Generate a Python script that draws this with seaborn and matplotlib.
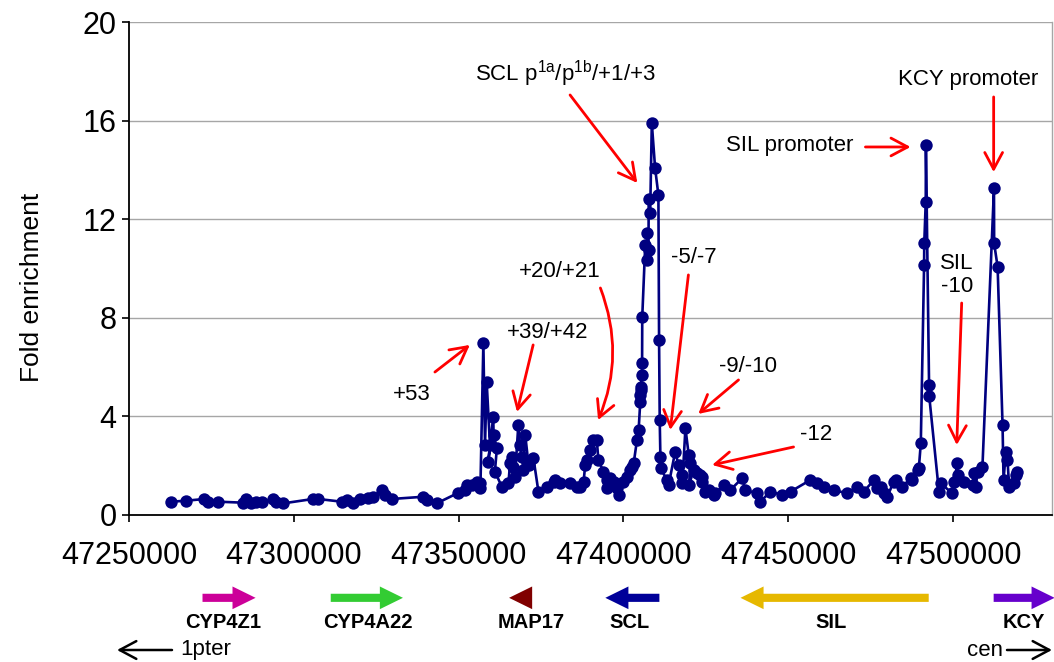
import numpy as np
import pandas as pd
import matplotlib
matplotlib.use("Agg")
import matplotlib.pyplot as plt
import matplotlib.transforms as mtransforms
from matplotlib.patches import FancyArrow
import seaborn as sns

# ---------------- data ----------------
position = [
    47262800, 47267400, 47272900, 47273900, 47277000, 47284600, 47285600, 47287100,
    47288600, 47290200, 47293700, 47294700, 47296700, 47305800, 47307400, 47314500,
    47316000, 47318000, 47320000, 47322500, 47324100, 47326600, 47327600, 47329700,
    47339300, 47340300, 47343300, 47349900, 47351900, 47352400, 47354000, 47355500,
    47356500, 47356600, 47357500, 47358000, 47358500, 47359500, 47359000, 47360500,
    47360600, 47361600, 47361000, 47363100, 47365100, 47365600, 47366100, 47366600,
    47367100, 47368100, 47368600, 47369200, 47369600, 47370200, 47371200, 47372700,
    47374200, 47376700, 47378800, 47379300, 47380800, 47383800, 47385900, 47386900,
    47387900, 47388400, 47388900, 47389900, 47390900, 47391900, 47392400, 47393900,
    47395000, 47395100, 47396000, 47397000, 47398000, 47398500, 47400000, 47401000,
    47402100, 47402600, 47403100, 47404100, 47404600, 47405100, 47405150, 47405200,
    47405250, 47405600, 47405650, 47405700, 47406600, 47407100, 47407150, 47407600,
    47407650, 47408100, 47408600, 47409600, 47410600, 47410800, 47411000, 47411200,
    47411300, 47413200, 47413700, 47415700, 47416700, 47417800, 47417850, 47418800,
    47419800, 47420300, 47419900, 47421300, 47422300, 47423300, 47423800, 47423850,
    47424800, 47425800, 47427400, 47427900, 47430400, 47432400, 47436000, 47437000,
    47440500, 47441500, 47444600, 47448100, 47450700, 47456700, 47458800, 47460800,
    47463800, 47467900, 47470900, 47472900, 47476000, 47477000, 47478000, 47479000,
    47480000, 47482000, 47482600, 47484600, 47487100, 47487600, 47489200, 47489600,
    47490200, 47491200, 47491250, 47491700, 47491750, 47492700, 47492750, 47495700,
    47496200, 47499800, 47500300, 47501300, 47501350, 47503300, 47505900, 47506300,
    47506900, 47507400, 47508900, 47512400, 47512450, 47513500, 47515000, 47515300,
    47516000, 47516500, 47517000, 47518500, 47519000, 47519500,
]
fold = [
    0.54, 0.58, 0.65, 0.54, 0.54, 0.50, 0.65, 0.50,
    0.54, 0.51, 0.65, 0.51, 0.47, 0.65, 0.65, 0.54,
    0.61, 0.47, 0.65, 0.68, 0.74, 1.01, 0.81, 0.65,
    0.74, 0.61, 0.47, 0.90, 1.01, 1.22, 1.22, 1.35,
    1.28, 1.08, 6.97, 2.84, 5.41, 2.84, 2.16, 3.99,
    3.25, 2.71, 1.76, 1.15, 1.28, 2.10, 2.37, 1.96,
    1.55, 3.65, 2.84, 2.37, 1.83, 3.25, 2.03, 2.30,
    0.95, 1.15, 1.35, 1.42, 1.28, 1.28, 1.15, 1.15,
    1.35, 2.03, 2.23, 2.64, 3.04, 3.04, 2.23, 1.76,
    1.42, 1.08, 1.49, 1.35, 1.08, 0.81, 1.35, 1.55,
    1.83, 1.96, 2.10, 3.04, 3.45, 4.60, 4.87, 5.07,
    5.20, 5.68, 6.15, 8.04, 10.95, 10.34, 11.43, 10.75,
    12.81, 12.24, 15.89, 14.07, 12.98, 7.10, 3.85, 2.37,
    1.89, 1.42, 1.22, 2.57, 2.03, 1.62, 1.28, 3.52,
    2.43, 2.10, 1.22, 1.83, 1.69, 1.62, 1.55, 1.35,
    0.95, 1.01, 0.81, 0.88, 1.22, 1.01, 1.49, 1.01,
    0.88, 0.54, 0.95, 0.81, 0.95, 1.42, 1.28, 1.15,
    1.01, 0.88, 1.15, 0.95, 1.42, 1.08, 1.15, 0.88,
    0.74, 1.35, 1.42, 1.15, 1.49, 1.42, 1.83, 1.89,
    2.91, 10.14, 11.02, 12.71, 15.01, 5.27, 4.83, 0.95,
    1.28, 0.88, 1.35, 2.10, 1.62, 1.35, 1.22, 1.69,
    1.15, 1.76, 1.96, 13.25, 11.02, 10.07, 3.65, 1.42,
    2.57, 2.23, 1.15, 1.28, 1.62, 1.76,
]

x_ticks = [47250000, 47300000, 47350000, 47400000, 47450000, 47500000]
y_ticks = [0, 4, 8, 12, 16, 20]

gene_names = ["CYP4Z1", "CYP4A22", "MAP17", "SCL", "SIL", "KCY"]
gene_tail = [47272300, 47311200, 47372300, 47410900, 47492600, 47512300]
gene_tip = [47288400, 47333100, 47365300, 47394500, 47435500, 47530800]
gene_colors = ["#CC0099", "#33CC33", "#800000", "#000099", "#E6B800", "#6600CC"]
gene_label_x = [47278500, 47322400, 47372100, 47401800, 47463000, 47521500]

# ---------------- style ----------------
sns.set_style("white")
plt.rcParams["font.family"] = ["Liberation Sans", "DejaVu Sans"]
plt.rcParams["text.color"] = "black"
plt.rcParams["xtick.color"] = "black"
plt.rcParams["ytick.color"] = "black"
plt.rcParams["axes.labelcolor"] = "black"

fig = plt.figure(figsize=(10.54, 6.62), dpi=100)
ax = fig.add_axes([129 / 1054, 147 / 662, 923 / 1054, 493 / 662])

df = pd.DataFrame({"position": position, "fold": fold})
navy = "#000080"
sns.lineplot(data=df, x="position", y="fold", sort=False, estimator=None,
             color=navy, lw=1.9, ax=ax, zorder=3)
sns.scatterplot(data=df, x="position", y="fold", color=navy, s=80,
                edgecolor=navy, linewidth=0, ax=ax, zorder=4)

ax.set_xlim(47250000, 47530000)
ax.set_ylim(0, 20)
ax.set_xticks(x_ticks)
ax.set_xticklabels([str(v) for v in x_ticks])
ax.set_yticks(y_ticks)
ax.set_xlabel("")
ax.set_ylabel("")
ax.yaxis.grid(True, color="#A6A6A6", lw=1.0)
ax.set_axisbelow(True)
ax.tick_params(axis="x", labelsize=22, length=5, width=1.2, pad=14, direction="out",
               color="black", labelcolor="black", bottom=True)
ax.tick_params(axis="y", labelsize=22, length=5, width=1.2, pad=4, direction="out",
               color="black", labelcolor="black", left=True)
for s in ["left", "bottom"]:
    ax.spines[s].set_color("black")
    ax.spines[s].set_linewidth(1.3)
ax.spines["right"].set_color("#A6A6A6")
ax.spines["right"].set_linewidth(1.0)
ax.spines["top"].set_visible(False)

fig.text(32 / 1054, 1 - 287 / 662, "Fold enrichment", rotation=90,
         ha="center", va="center", fontsize=19, color="black")

# ---------------- annotations ----------------
red = "#FF0000"
astyle = "->,head_length=0.6,head_width=0.32"


def arrow(tail, head, rad=0.0):
    ax.annotate("", xy=head, xytext=tail, xycoords="data", textcoords="data",
                arrowprops=dict(arrowstyle=astyle, color=red, lw=2.0,
                                mutation_scale=20, shrinkA=0, shrinkB=0,
                                connectionstyle=f"arc3,rad={rad}"),
                annotation_clip=False)


tfs = 16
ax.text(47335800, 4.87, "+53", ha="center", va="center", fontsize=tfs)
arrow((47342800, 5.80), (47353400, 6.90))
ax.text(47377100, 7.42, "+39/+42", ha="center", va="center", fontsize=tfs)
arrow((47372600, 6.90), (47367700, 4.18))
ax.text(47380800, 9.86, "+20/+21", ha="center", va="center", fontsize=tfs)
arrow((47393000, 9.21), (47392300, 3.85), rad=-0.2)
ax.text(47382300, 17.89, r"SCL p$^\mathregular{1a}$/p$^\mathregular{1b}$/+1/+3",
        ha="center", va="center", fontsize=tfs)
arrow((47383800, 17.04), (47404200, 13.47))
ax.text(47421200, 10.43, "-5/-7", ha="center", va="center", fontsize=tfs)
arrow((47419700, 9.74), (47414200, 3.45))
ax.text(47437900, 6.04, "-9/-10", ha="center", va="center", fontsize=tfs)
arrow((47434900, 5.48), (47422700, 4.10))
ax.text(47458300, 3.25, "-12", ha="center", va="center", fontsize=tfs)
arrow((47451600, 2.76), (47426900, 2.03))
ax.text(47469800, 15.01, "SIL promoter", ha="right", va="center", fontsize=tfs)
arrow((47473400, 14.93), (47487100, 14.93))
ax.text(47504700, 17.65, "KCY promoter", ha="center", va="center", fontsize=tfs)
arrow((47512300, 16.96), (47512300, 13.91))
ax.text(47501100, 9.74, "SIL\n-10", ha="center", va="center", fontsize=tfs,
        linespacing=1.15)
arrow((47502600, 8.60), (47501100, 2.84))

# ---------------- gene track ----------------
trans = mtransforms.blended_transform_factory(ax.transData, ax.transAxes)
head_len = 7000
for name, t0, t1, col, lx in zip(gene_names, gene_tail, gene_tip, gene_colors, gene_label_x):
    dx = t1 - t0
    hl = min(head_len, abs(dx))
    arr = FancyArrow(t0, -0.168, dx, 0, width=0.0165, head_width=0.046,
                     head_length=hl, length_includes_head=True, transform=trans,
                     color=col, clip_on=False, lw=0)
    ax.add_patch(arr)
    ax.text(lx, -0.219, name, transform=trans, ha="center", va="center",
            fontsize=14.5, fontweight="bold", clip_on=False, color="black")

fig.text(180 / 1054, 12 / 662, "1pter", ha="left", va="center", fontsize=16, color="black")
fig.text(1003 / 1054, 12 / 662, "cen", ha="right", va="center", fontsize=16, color="black")
for tail, head in [((172, 12), (117, 12)), ((1007, 12), (1052, 12))]:
    fig.patches.append(matplotlib.patches.FancyArrowPatch(
        tail, head, transform=None, arrowstyle="->,head_length=0.6,head_width=0.32",
        mutation_scale=20, color="black", lw=1.8, shrinkA=0, shrinkB=0))

fig.savefig("out.png", dpi=100)
